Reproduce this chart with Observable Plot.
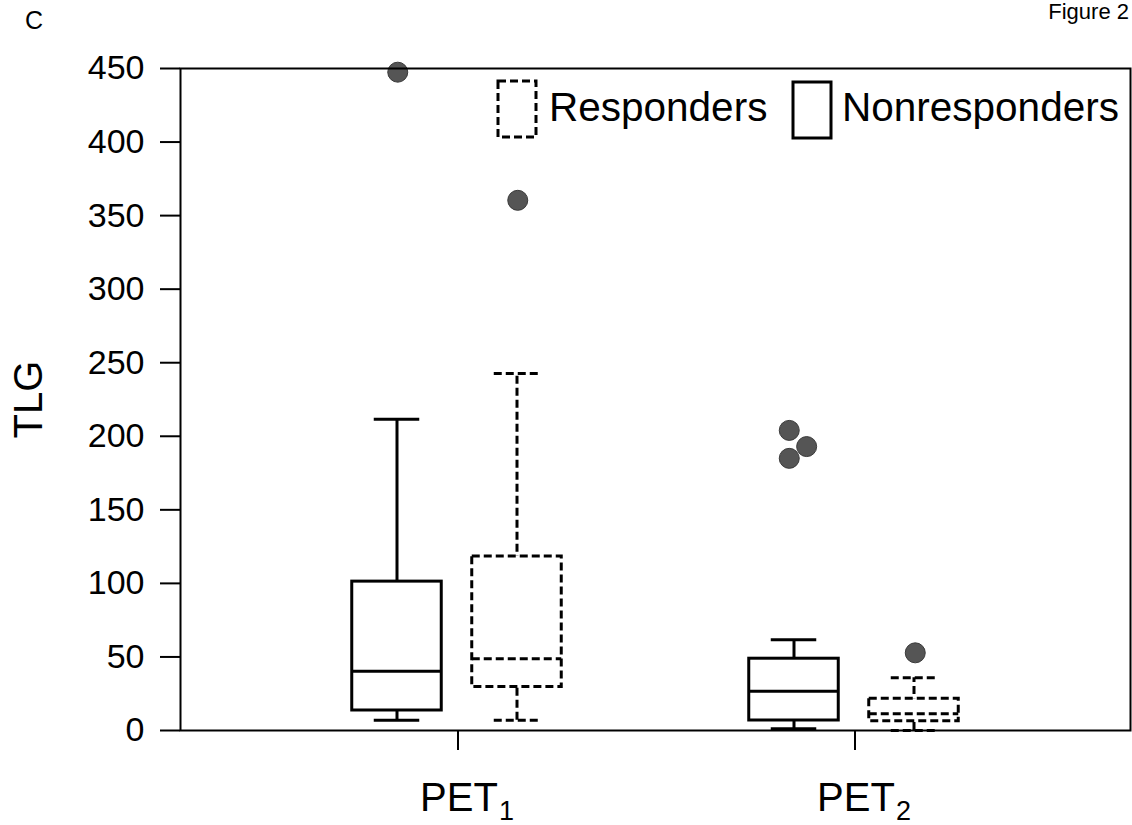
<!DOCTYPE html>
<html><head><meta charset="utf-8">
<script src="https://cdn.jsdelivr.net/npm/d3@7"></script>
<script src="https://cdn.jsdelivr.net/npm/@observablehq/plot@0.6"></script>
<style>
body{margin:0;background:#fff;font-family:"Liberation Sans",Arial,sans-serif;}
#wrap{position:relative;width:1132px;height:825px;overflow:hidden;background:#fff}
#wrap > svg{position:absolute;left:0;top:0}
.abs{position:absolute;color:#000;white-space:nowrap;line-height:1}
</style></head><body>
<div id="wrap"></div>
<script>
// ---- data ----
const timepoints = ["PET1", "PET2"];
const groups = ["Nonresponders", "Responders"];
const yTicks = [0, 50, 100, 150, 200, 250, 300, 350, 400, 450];

// Nonresponders (solid boxes), one value per timepoint
const nonLow    = [7, 1.2];
const nonQ1     = [13.6, 6.8];
const nonMedian = [40.3, 26.7];
const nonQ3     = [101.2, 48.8];
const nonHigh   = [211.5, 61.7];
const nonOutliers = [[447.5], [185, 204, 193]];

// Responders (dashed boxes)
const resLow    = [7, 0];
const resQ1     = [29.5, 6.3];
const resMedian = [48.8, 11.4];
const resQ3     = [118.3, 21.6];
const resHigh   = [242.6, 35.8];
const resOutliers = [[360.4], [52.8]];

// ---- build tables ----
const stats = {
  Nonresponders: {low: nonLow, q1: nonQ1, median: nonMedian, q3: nonQ3, high: nonHigh, out: nonOutliers},
  Responders:    {low: resLow, q1: resQ1, median: resMedian, q3: resQ3, high: resHigh, out: resOutliers}
};
const rows = groups.flatMap(g => timepoints.map((t, i) => ({
  timepoint: t, group: g, low: stats[g].low[i], q1: stats[g].q1[i],
  median: stats[g].median[i], q3: stats[g].q3[i], high: stats[g].high[i]
})));

// ---- layout / style ----
const W = 1132, H = 825, mL = 180, mR = 2, mT = 68, mB = 95;
const xRange = [258.75, 1053.75];
const bw = (xRange[1] - xRange[0]) / timepoints.length;
const boxW = 90, capW = 46, dotR = 10;
const boxInset = (bw - boxW) / 2, capInset = (bw - capW) / 2;
const groupStyle = {
  Nonresponders: {dx: -61, dash: null},
  Responders: {dx: 59, dash: "8,4"}
};

const marks = [];
for (const g of groups) {
  const data = rows.filter(d => d.group === g);
  const s = groupStyle[g];
  const common = {x: "timepoint", dx: s.dx, stroke: "#000", strokeWidth: 3, strokeDasharray: s.dash};
  marks.push(Plot.ruleX(data, {...common, y1: "low", y2: "high"}));
  marks.push(Plot.barY(data, {...common, y1: "q1", y2: "q3", fill: "#fff", insetLeft: boxInset, insetRight: boxInset}));
  marks.push(Plot.tickY(data, {...common, y: "median", insetLeft: boxInset, insetRight: boxInset}));
  marks.push(Plot.tickY(data, {...common, y: "low", insetLeft: capInset, insetRight: capInset}));
  marks.push(Plot.tickY(data, {...common, y: "high", insetLeft: capInset, insetRight: capInset}));
}
// outliers: beeswarm (dodge) around each box centre
for (const g of groups) {
  timepoints.forEach((t, i) => {
    const vals = stats[g].out[i];
    if (!vals.length) return;
    const center = xRange[0] + bw * (i + 0.5) + groupStyle[g].dx;
    const shift = vals.length > 1 ? -6 : 0;
    marks.push(Plot.dot(vals, Plot.dodgeX("left", {
      y: d => d, r: dotR, fill: "#555", stroke: "#3a3a3a", strokeWidth: 1,
      dx: center - bw / 2 - (mL + dotR) + shift
    })));
  });
}

const chart = Plot.plot({
  width: W, height: H,
  marginLeft: mL, marginRight: mR, marginTop: mT, marginBottom: mB,
  style: {fontFamily: "'Liberation Sans', Arial, sans-serif", color: "#000", background: "#fff"},
  x: {type: "band", domain: timepoints, range: xRange, padding: 0},
  y: {domain: [0, 450]},
  marks: [
    ...marks,
    Plot.frame({stroke: "#000", strokeWidth: 2}),
    Plot.axisY({ticks: yTicks, tickSize: 20, tickPadding: 16, fontSize: 34, label: null, strokeWidth: 2}),
    Plot.axisX({tickSize: 20, tickPadding: 32, fontSize: 40, label: null, strokeWidth: 2}),
    Plot.text(["TLG"], {text: d => d, frameAnchor: "left", textAnchor: "middle", rotate: -90, dx: -151, fontSize: 40})
  ]
});

// subscripts on x tick labels
chart.querySelectorAll('[aria-label="x-axis tick label"] text').forEach(t => {
  const m = /^(\D+)(\d+)$/.exec(t.textContent);
  if (!m) return;
  t.textContent = m[1];
  const ts = document.createElementNS("http://www.w3.org/2000/svg", "tspan");
  ts.setAttribute("font-size", "27");
  ts.setAttribute("dy", "9");
  ts.setAttribute("dx", "1");
  ts.textContent = m[2];
  t.appendChild(ts);
  t.setAttribute("transform", (t.getAttribute("transform") || "") + " translate(9,0)");
});

const wrap = document.getElementById("wrap");
wrap.appendChild(chart);

function addText(txt, css) {
  const d = document.createElement("div");
  d.className = "abs";
  d.textContent = txt;
  Object.assign(d.style, css);
  wrap.appendChild(d);
}
addText("C", {left: "25px", top: "8px", fontSize: "25px"});
addText("Figure 2", {right: "3px", top: "1px", fontSize: "22px"});

// legend
function addSwatch(left, top, dash) {
  const ns = "http://www.w3.org/2000/svg";
  const s = document.createElementNS(ns, "svg");
  s.setAttribute("width", 44); s.setAttribute("height", 62);
  s.style.position = "absolute"; s.style.left = left + "px"; s.style.top = top + "px";
  const r = document.createElementNS(ns, "rect");
  r.setAttribute("x", 2); r.setAttribute("y", 2); r.setAttribute("width", 38); r.setAttribute("height", 56);
  r.setAttribute("fill", "#fff"); r.setAttribute("stroke", "#000"); r.setAttribute("stroke-width", 3);
  if (dash) r.setAttribute("stroke-dasharray", dash);
  s.appendChild(r);
  wrap.appendChild(s);
}
addSwatch(496, 79, "8,4");
addText(groups[1], {left: "549px", top: "87px", fontSize: "40.5px"});
addSwatch(791, 80, null);
addText(groups[0], {left: "842px", top: "87px", fontSize: "40.5px"});
</script>
</body></html>
